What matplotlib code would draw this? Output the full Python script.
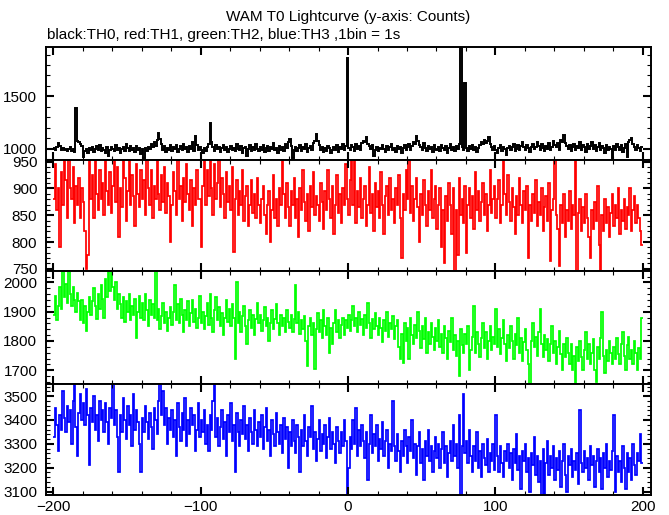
import numpy as np
import matplotlib
matplotlib.use("Agg")
import matplotlib.pyplot as plt
from matplotlib.ticker import MultipleLocator

# Zeitachse: 1 bin = 1 s, von -200 s bis +200 s
t_start = -200
t_stop = 200

# TH0 (schwarz), Counts pro Bin
th0 = [
    1005, 985, 1010, 1050, 1020, 990, 1003, 985, 998, 975, 992, 1010, 980, 995, 965, 1390, 1075, 1060, 1040, 1022,
    915, 975, 998, 960, 1008, 985, 1012, 970, 996, 1020, 988, 1035, 978, 1004, 990, 962, 1010, 925, 985, 1018,
    998, 972, 1030, 986, 1008, 960, 994, 1015, 980, 1040, 1002, 976, 1022, 990, 1008, 968, 1025, 985, 1006, 950,
    992, 905, 1005, 980, 1018, 992, 1045, 1010, 1060, 1025, 1080, 1150, 1090, 1040, 990, 1020, 965, 1005, 985, 1030,
    975, 1012, 995, 1038, 968, 1000, 1020, 985, 1048, 992, 1010, 970, 1025, 1000, 1060, 980, 1120, 1035, 990, 1015,
    985, 960, 1005, 978, 1010, 1040, 1240, 1065, 1010, 980, 1030, 995, 1015, 970, 1002, 1035, 988, 1012, 965, 995,
    1020, 982, 1008, 975, 1045, 1000, 985, 1028, 960, 1004, 1018, 925, 992, 1035, 978, 1010, 990, 1040, 1000, 972,
    1015, 988, 1030, 968, 1006, 1022, 980, 1012, 995, 1050, 985, 1008, 962, 1025, 990, 1018, 975, 1040, 1005, 1060,
    1096, 1020, 908, 985, 1010, 972, 1002, 1030, 980, 1015, 995, 1040, 968, 1008, 1025, 985, 1050, 1075, 1144, 1070,
    1035, 990, 1012, 965, 1004, 975, 1028, 1002, 955, 990, 1010, 982, 1030, 970, 1015, 998, 1045, 985, 1020, 1870,
    1005, 985, 1030, 1010, 975, 1040, 1000, 1022, 990, 1050, 1075, 1060, 1112, 1045, 1020, 995, 1030, 930, 985, 1010,
    975, 1008, 992, 1035, 1000, 965, 1022, 990, 1012, 1040, 985, 1005, 970, 1028, 995, 1015, 960, 1002, 1030, 990,
    1010, 1045, 985, 1020, 1065, 1040, 1120, 1075, 1030, 1010, 985, 1050, 1005, 975, 1025, 992, 1012, 968, 1035, 1000,
    988, 1015, 972, 1030, 1005, 985, 1020, 960, 1008, 1040, 990, 1012, 978, 1025, 1000, 1045, 2400, 1010, 985, 1630,
    1005, 975, 1020, 992, 1035, 985, 1010, 965, 1002, 1030, 1060, 1040, 1085, 1050, 1075, 1106, 1040, 1012, 985, 1020,
    990, 960, 1008, 1030, 975, 1015, 995, 940, 1002, 1025, 985, 1010, 1045, 978, 1000, 1035, 988, 1020, 1060, 1012,
    985, 1030, 1005, 970, 1018, 1045, 992, 1010, 1065, 1020, 990, 1040, 1008, 975, 1025, 1000, 1050, 985, 1015, 1070,
    1030, 1010, 1055, 990, 1080, 1060, 1128, 1050, 1020, 1000, 1035, 975, 1012, 1045, 990, 1020, 1005, 1060, 985, 1030,
    1010, 968, 1040, 995, 1022, 1065, 1000, 1030, 975, 1012, 1050, 988, 1025, 1005, 960, 1035, 990, 1015, 1000, 905,
    1020, 985, 1045, 1010, 990, 1030, 965, 1005, 1040, 920, 1060, 1080, 1103, 1040, 1015, 990, 1030, 1005, 975, 1010,
]

# TH1 (rot)
th1 = [
    880, 945, 860, 900, 790, 930, 870, 960, 915, 845, 960, 900, 880, 940, 835, 905, 870, 920, 845, 900,
    875, 820, 750, 775, 960, 880, 925, 845, 955, 890, 860, 935, 880, 910, 850, 960, 895, 870, 930, 855,
    905, 960, 875, 940, 810, 900, 865, 955, 920, 840, 895, 960, 870, 925, 885, 830, 945, 890, 865, 935,
    880, 915, 850, 960, 900, 870, 935, 845, 905, 880, 960, 890, 860, 925, 875, 940, 855, 910, 885, 800,
    870, 930, 895, 850, 960, 880, 905, 840, 920, 875, 945, 890, 860, 915, 830, 900, 870, 935, 880, 880,
    790, 905, 960, 870, 935, 885, 960, 900, 850, 945, 880, 910, 960, 865, 920, 890, 845, 930, 875, 905,
    860, 940, 782, 880, 915, 850, 895, 870, 935, 840, 885, 905, 830, 870, 915, 855, 890, 845, 920, 870,
    835, 880, 905, 850, 815, 870, 895, 800, 860, 925, 845, 880, 830, 900, 870, 960, 890, 845, 910, 865,
    830, 895, 870, 920, 845, 880, 810, 900, 860, 935, 875, 840, 890, 820, 905, 865, 930, 850, 885, 870,
    840, 910, 875, 825, 895, 860, 935, 880, 845, 905, 815, 870, 925, 855, 890, 835, 900, 870, 945, 880,
    850, 915, 960, 870, 960, 835, 895, 865, 920, 845, 880, 905, 830, 870, 940, 855, 890, 820, 910, 865,
    895, 845, 930, 870, 815, 885, 905, 850, 920, 860, 880, 835, 900, 870, 925, 845, 770, 890, 860, 935,
    880, 960, 855, 905, 840, 880, 920, 865, 800, 890, 850, 915, 870, 830, 895, 860, 935, 845, 880, 905,
    825, 870, 900, 790, 860, 760, 885, 840, 910, 870, 815, 900, 745, 860, 775, 920, 850, 880, 835, 905,
    780, 870, 900, 845, 885, 825, 930, 860, 895, 840, 875, 910, 850, 890, 820, 870, 935, 855, 880, 905,
    845, 880, 915, 835, 870, 960, 890, 850, 925, 875, 840, 900, 865, 815, 885, 850, 920, 870, 835, 895,
    860, 905, 770, 870, 840, 890, 855, 915, 830, 875, 850, 900, 820, 865, 885, 840, 910, 765, 860, 880,
    960, 850, 825, 755, 870, 835, 890, 810, 860, 840, 895, 825, 870, 850, 960, 740, 855, 880, 820, 865,
    835, 890, 845, 810, 770, 860, 825, 875, 840, 905, 795, 745, 850, 820, 880, 835, 865, 810, 855, 890,
    830, 870, 845, 900, 815, 860, 840, 880, 825, 865, 850, 900, 820, 860, 885, 835, 870, 845, 820, 795,
]

# TH2 (gruen)
th2 = [
    1890, 1955, 1870, 1920, 1985, 1910, 2040, 1950, 1995, 1930, 2045, 1960, 1920, 1985, 1940, 1900, 1965, 1935, 1870, 1940,
    1860, 1920, 1835, 1900, 1950, 1890, 1935, 1980, 1920, 1875, 1960, 1910, 1990, 1945, 1880, 2010, 1950, 2045, 1970, 2045,
    1985, 1940, 2000, 1910, 1960, 1925, 1880, 1950, 1865, 1935, 1900, 1960, 1870, 1920, 1890, 1945, 1810, 1900, 1955, 1880,
    1930, 1870, 1960, 1905, 1850, 1940, 1890, 1925, 1880, 2045, 1870, 1910, 1840, 1885, 1930, 1860, 1900, 1835, 1880, 1915,
    1855, 1900, 1990, 1870, 1925, 1860, 1945, 1890, 1830, 1905, 1870, 1935, 1850, 1895, 1940, 1865, 1910, 1845, 1880, 1955,
    1860, 1900, 1840, 1885, 1930, 1855, 1960, 1880, 1830, 1905, 1950, 1870, 1915, 1850, 1895, 1820, 1880, 1940, 1865, 1910,
    1850, 1925, 1880, 1740, 2000, 1860, 1900, 1830, 1885, 1920, 1850, 1790, 1870, 1905, 1845, 1890, 1820, 1875, 1930, 1860,
    1890, 1835, 1870, 1915, 1850, 1880, 1800, 1860, 1905, 1840, 1875, 1925, 1860, 1820, 1890, 1850, 1880, 1830, 1905, 1865,
    1845, 1890, 1830, 1875, 1990, 1860, 1900, 1825, 1870, 1840, 1885, 1800, 1715, 1850, 1880, 1820, 1860, 1705, 1840, 1895,
    1830, 1870, 1810, 1905, 1850, 1820, 1880, 1760, 1845, 1790, 1860, 1905, 1830, 1870, 1810, 1855, 1880, 1820, 1870, 1845,
    1890, 1835, 1870, 1920, 1850, 1880, 1830, 1900, 1855, 1875, 1820, 1890, 1845, 1930, 1860, 1810, 1875, 1840, 1895, 1850,
    1820, 1880, 1845, 1795, 1870, 1835, 1900, 1815, 1860, 1840, 1885, 1805, 1850, 1870, 1780, 1740, 1825, 1725, 1860, 1800,
    1845, 1740, 1880, 1820, 1790, 1855, 1810, 1900, 1835, 1775, 1850, 1805, 1880, 1760, 1830, 1790, 1860, 1815, 1770, 1845,
    1800, 1870, 1780, 1825, 1760, 1850, 1810, 1740, 1835, 1795, 1880, 1770, 1820, 1750, 1800, 1680, 1840, 1785, 1760, 1825,
    1790, 1850, 1700, 1770, 1815, 1920, 1760, 1830, 1790, 1745, 1810, 1860, 1775, 1830, 1740, 1800, 1850, 1770, 1815, 1790,
    1910, 1780, 1840, 1755, 1810, 1870, 1790, 1730, 1820, 1775, 1850, 1800, 1740, 1825, 1785, 1880, 1760, 1810, 1730, 1795,
    1840, 1770, 1720, 1650, 1800, 1860, 1780, 1815, 1750, 1830, 1910, 1790, 1745, 1820, 1770, 1805, 1730, 1790, 1850, 1760,
    1800, 1720, 1780, 1835, 1755, 1700, 1790, 1745, 1810, 1760, 1720, 1790, 1700, 1750, 1650, 1780, 1730, 1800, 1745, 1700,
    1770, 1830, 1740, 1790, 1720, 1760, 1805, 1700, 1660, 1780, 1740, 1810, 1900, 1750, 1690, 1770, 1730, 1800, 1760, 1720,
    1780, 1740, 1810, 1755, 1720, 1790, 1830, 1750, 1700, 1785, 1815, 1740, 1770, 1720, 1800, 1760, 1700, 1775, 1740, 1880,
]

# TH3 (blau)
th3 = [
    3330, 3450, 3380, 3270, 3420, 3360, 3520, 3410, 3350, 3460, 3390, 3440, 3300, 3480, 3560, 3370, 3250, 3430, 3510, 3400,
    3470, 3380, 3530, 3420, 3210, 3450, 3390, 3500, 3360, 3420, 3310, 3480, 3400, 3440, 3350, 3470, 3390, 3300, 3450, 3410,
    3560, 3380, 3440, 3330, 3180, 3420, 3350, 3490, 3400, 3320, 3460, 3380, 3420, 3290, 3510, 3360, 3440, 3390, 3300, 3180,
    3410, 3350, 3460, 3390, 3320, 3430, 3370, 3280, 3450, 3400, 3340, 3480, 3560, 3420, 3520, 3380, 3450, 3300, 3410, 3360,
    3440, 3330, 3400, 3250, 3470, 3370, 3310, 3430, 3360, 3490, 3290, 3400, 3340, 3450, 3380, 3420, 3270, 3360, 3470, 3330,
    3400, 3350, 3440, 3300, 3380, 3270, 3420, 3360, 3480, 3560, 3330, 3410, 3290, 3370, 3440, 3320, 3390, 3250, 3420, 3350,
    3470, 3310, 3380, 3180, 3430, 3350, 3290, 3400, 3340, 3460, 3320, 3380, 3270, 3410, 3350, 3300, 3440, 3360, 3290, 3390,
    3330, 3420, 3280, 3370, 3450, 3310, 3360, 3250, 3400, 3340, 3290, 3430, 3350, 3300, 3380, 3260, 3410, 3320, 3370, 3200,
    3350, 3290, 3400, 3310, 3260, 3380, 3330, 3180, 3360, 3290, 3420, 3310, 3250, 3370, 3330, 3460, 3280, 3350, 3230, 3320,
    3400, 3270, 3340, 3300, 3380, 3240, 3330, 3410, 3280, 3350, 3300, 3220, 3370, 3310, 3260, 3350, 3290, 3400, 3310, 3090,
    3200, 3330, 3280, 3400, 3300, 3450, 3250, 3360, 3290, 3380, 3310, 3240, 3350, 3150, 3300, 3420, 3260, 3340, 3290, 3380,
    3230, 3320, 3280, 3390, 3250, 3310, 3360, 3200, 3300, 3270, 3480, 3290, 3230, 3340, 3270, 3180, 3310, 3250, 3360, 3290,
    3220, 3330, 3270, 3400, 3240, 3300, 3170, 3290, 3350, 3220, 3280, 3150, 3310, 3250, 3360, 3230, 3290, 3180, 3270, 3330,
    3240, 3300, 3200, 3280, 3350, 3220, 3290, 3160, 3260, 3310, 3230, 3380, 3250, 3300, 3200, 3420, 3080, 3290, 3510, 3260,
    3310, 3220, 3360, 3250, 3180, 3290, 3230, 3350, 3200, 3270, 3160, 3300, 3240, 3210, 3320, 3180, 3260, 3230, 3300, 3190,
    3420, 3250, 3180, 3290, 3220, 3160, 3270, 3230, 3300, 3200, 3260, 3150, 3280, 3220, 3340, 3190, 3250, 3110, 3270, 3230,
    3300, 3180, 3240, 3100, 3260, 3210, 3330, 3170, 3250, 3140, 3230, 3080, 3280, 3090, 3220, 3310, 3170, 3250, 3200, 3290,
    3150, 3240, 3190, 3270, 3120, 3230, 3300, 3170, 3100, 3250, 3210, 3280, 3160, 3230, 3190, 3260, 3130, 3440, 3220, 3180,
    3270, 3200, 3240, 3150, 3290, 3210, 3250, 3120, 3230, 3280, 3180, 3240, 3110, 3260, 3200, 3300, 3160, 3230, 3190, 3270,
    3420, 3100, 3250, 3180, 3230, 3140, 3290, 3200, 3110, 3260, 3180, 3240, 3150, 3300, 3210, 3170, 3260, 3230, 3340, 3220,
]

# Panel-Einstellungen: Daten, Farbe, y-Bereich, Haupt-/Nebenticks
panels = [
    (th0, "#000000", (895, 1970), 500, 100),
    (th1, "#ff0000", (746, 954), 50, 10),
    (th2, "#00ff00", (1654, 2039), 100, 20),
    (th3, "#0000ff", (3087, 3552), 100, 20),
]

plt.rcParams["font.family"] = ["Liberation Sans", "DejaVu Sans"]

fig = plt.figure(figsize=(6.69, 5.15), dpi=100)

kanten = np.arange(t_start, t_stop + 1)
grenzen_px = [47.3, 159.5, 271.0, 383.7, 494.7]
links = 45.7 / 669
breite = (650.7 - 45.7) / 669

for i, (werte, farbe, ylim, major, minor) in enumerate(panels):
    oben = 1 - grenzen_px[i] / 515
    unten = 1 - grenzen_px[i + 1] / 515
    ax = fig.add_axes([links, unten, breite, oben - unten])
    ax.stairs(werte, kanten, baseline=None, color=farbe,
              linewidth=1.4 if i == 0 else 1.25)
    ax.set_xlim(-205.2, 205.4)
    ax.set_ylim(*ylim)
    ax.xaxis.set_major_locator(MultipleLocator(100))
    ax.xaxis.set_minor_locator(MultipleLocator(20))
    ax.yaxis.set_major_locator(MultipleLocator(major))
    ax.yaxis.set_minor_locator(MultipleLocator(minor))
    ax.tick_params(which="both", direction="in", top=True, right=True)
    ax.tick_params(which="major", length=5.5, width=1.5, labelsize=11)
    ax.tick_params(which="minor", length=2.8, width=0.8)
    ax.tick_params(axis="y", pad=6)
    ax.tick_params(axis="x", pad=4)
    for spine in ax.spines.values():
        spine.set_linewidth(1.4)
    if i < len(panels) - 1:
        ax.tick_params(labelbottom=False)

fig.text(348 / 669, 1 - 17 / 515, "WAM T0 Lightcurve (y-axis: Counts)",
         ha="center", va="center", fontsize=11)
fig.text(47 / 669, 1 - 35 / 515, "black:TH0, red:TH1, green:TH2, blue:TH3 ,1bin = 1s",
         ha="left", va="center", fontsize=11)

fig.savefig("out.png", dpi=100)
